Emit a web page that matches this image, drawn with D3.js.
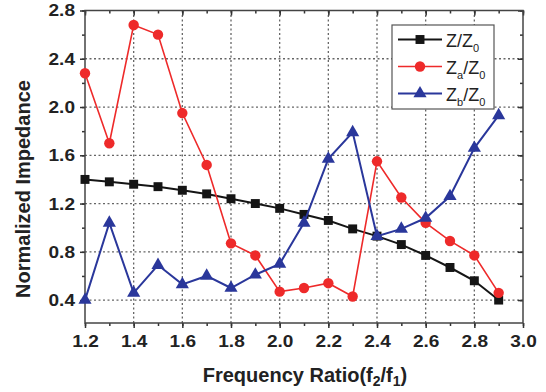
<!DOCTYPE html>
<html><head><meta charset="utf-8">
<script src="https://cdn.jsdelivr.net/npm/d3@7"></script>
<style>body{margin:0;background:#fff}svg{display:block}</style>
</head><body>
<script>
const freq = [1.2,1.3,1.4,1.5,1.6,1.7,1.8,1.9,2.0,2.1,2.2,2.3,2.4,2.5,2.6,2.7,2.8,2.9];
const zZ0  = [1.40,1.38,1.36,1.34,1.31,1.28,1.24,1.20,1.16,1.11,1.06,0.99,0.93,0.86,0.77,0.67,0.56,0.40];
const zaZ0 = [2.28,1.70,2.68,2.60,1.95,1.52,0.87,0.77,0.47,0.50,0.54,0.43,1.55,1.25,1.04,0.89,0.77,0.46];
const zbZ0 = [0.40,1.04,0.46,0.69,0.53,0.60,0.50,0.61,0.70,1.04,1.57,1.79,0.93,0.99,1.08,1.26,1.66,1.93];
const xTicks = [1.2,1.4,1.6,1.8,2.0,2.2,2.4,2.6,2.8,3.0];
const yTicks = [0.4,0.8,1.2,1.6,2.0,2.4,2.8];
const xTitle = "Frequency Ratio(f";
const yTitle = "Normalized Impedance";

const W=546,H=392;
const L=85,R=523,T=10.5,B=323;
const svg=d3.select("body").append("svg").attr("width",W).attr("height",H);
const x=d3.scaleLinear().domain([1.2,3.0]).range([L,R]);
const y=d3.scaleLinear().domain([0.21,2.8]).range([B,T]);

const minorX=d3.range(12,31).map(d=>d/10);
const minorY=d3.range(2,15).map(d=>d/5);

// grid
const g=svg.append("g");
g.selectAll(".gx").data(xTicks.slice(1,-1)).join("line")
 .attr("x1",d=>x(d)).attr("x2",d=>x(d)).attr("y1",T).attr("y2",B)
 .attr("stroke","#666").attr("stroke-width",1.3).attr("stroke-dasharray","2,2.5");
g.selectAll(".gy").data(yTicks.slice(0,-1)).join("line")
 .attr("y1",d=>y(d)).attr("y2",d=>y(d)).attr("x1",L).attr("x2",R)
 .attr("stroke","#666").attr("stroke-width",1.3).attr("stroke-dasharray","2,2.5");

// axes
const fmt=d3.format(".1f");
const ax=svg.append("g").attr("font-family","Liberation Sans, Arial, sans-serif").attr("font-weight","bold");
const axBottom=ax.append("g").attr("transform",`translate(0,${B})`)
 .call(d3.axisBottom(x).tickValues(xTicks).tickFormat(fmt).tickSize(5).tickSizeOuter(0).tickPadding(7));
axBottom.append("g").call(d3.axisBottom(x).tickValues(minorX).tickFormat("").tickSize(3).tickSizeOuter(0));
const axLeft=ax.append("g").attr("transform",`translate(${L},0)`)
 .call(d3.axisLeft(y).tickValues(yTicks).tickFormat(fmt).tickSize(5).tickSizeOuter(0).tickPadding(5));
axLeft.append("g").call(d3.axisLeft(y).tickValues(minorY).tickFormat("").tickSize(3).tickSizeOuter(0));
const axTop=ax.append("g").attr("transform",`translate(0,${T})`);
axTop.call(d3.axisBottom(x).tickValues(xTicks).tickFormat("").tickSize(5).tickSizeOuter(0));
axTop.append("g").call(d3.axisBottom(x).tickValues(minorX).tickFormat("").tickSize(3).tickSizeOuter(0));
const axRight=ax.append("g").attr("transform",`translate(${R},0)`);
axRight.call(d3.axisLeft(y).tickValues(yTicks).tickFormat("").tickSize(5).tickSizeOuter(0));
axRight.append("g").call(d3.axisLeft(y).tickValues(minorY).tickFormat("").tickSize(3).tickSizeOuter(0));
ax.selectAll(".domain").remove();
ax.selectAll("line").attr("stroke","#333").attr("stroke-width",1.5);
ax.selectAll("text").attr("font-size",17).attr("fill","#222")
 .each(function(){const w=this.getComputedTextLength();
   d3.select(this).attr("textLength",w*1.12).attr("lengthAdjust","spacingAndGlyphs");});
svg.append("rect").attr("x",L).attr("y",T).attr("width",R-L).attr("height",B-T)
 .attr("fill","none").attr("stroke","#444").attr("stroke-width",1.5);

// series
const line=d3.line().x(d=>x(d[0])).y(d=>y(d[1]));
const series=[
 {vals:zZ0,color:"#151515",sym:d3.symbolSquare,size:80,w:2},
 {vals:zaZ0,color:"#ee2a2a",sym:d3.symbolCircle,size:85,w:1.6},
 {vals:zbZ0,color:"#2a379b",sym:d3.symbolTriangle,size:75,w:2}
];
series.forEach(s=>{
 const pts=freq.map((f,i)=>[f,s.vals[i]]);
 svg.append("path").datum(pts).attr("d",line).attr("fill","none").attr("stroke",s.color).attr("stroke-width",s.w);
 svg.append("g").selectAll("path").data(pts).join("path")
  .attr("transform",d=>`translate(${x(d[0])},${y(d[1])})`)
  .attr("d",d3.symbol().type(s.sym).size(s.size)).attr("fill",s.color);
});

// legend
const lg=svg.append("g").attr("font-family","Liberation Sans, Arial, sans-serif");
lg.append("rect").attr("x",392).attr("y",25).attr("width",102).attr("height",84)
 .attr("fill","#fff").attr("stroke","#555").attr("stroke-width",1.2);
const labs=[["Z","","Z","0"],["Z","a","Z","0"],["Z","b","Z","0"]];
series.forEach((s,i)=>{
 const yy=39.5+i*27;
 lg.append("line").attr("x1",398).attr("x2",442).attr("y1",yy).attr("y2",yy).attr("stroke",s.color).attr("stroke-width",s.w);
 lg.append("path").attr("transform",`translate(420,${yy})`).attr("d",d3.symbol().type(s.sym).size(s.size)).attr("fill",s.color);
 const t=lg.append("text").attr("x",446).attr("y",yy+7).attr("font-size",18).attr("fill","#222");
 const l=labs[i];
 t.append("tspan").text(l[0]);
 if(l[1]) t.append("tspan").attr("font-size",11).attr("dy",5).text(l[1]);
 t.append("tspan").attr("dy",l[1]?-5:0).text("/"+l[2]);
 t.append("tspan").attr("font-size",11).attr("dy",5).text(l[3]);
});

// titles
const xt=svg.append("text").attr("x",305).attr("y",381.5).attr("text-anchor","middle")
 .attr("font-family","Liberation Sans, Arial, sans-serif").attr("font-weight","bold").attr("font-size",20).attr("fill","#222");
xt.append("tspan").text(xTitle);
xt.append("tspan").attr("font-size",14).attr("dy",4).text("2");
xt.append("tspan").attr("dy",-4).text("/f");
xt.append("tspan").attr("font-size",14).attr("dy",4).text("1");
xt.append("tspan").attr("dy",-4).text(")");
svg.append("text").attr("transform",`translate(30,189) rotate(-90)`).attr("text-anchor","middle")
 .attr("font-family","Liberation Sans, Arial, sans-serif").attr("font-weight","bold").attr("font-size",20).attr("fill","#222")
 .text(yTitle);
</script>
</body></html>
